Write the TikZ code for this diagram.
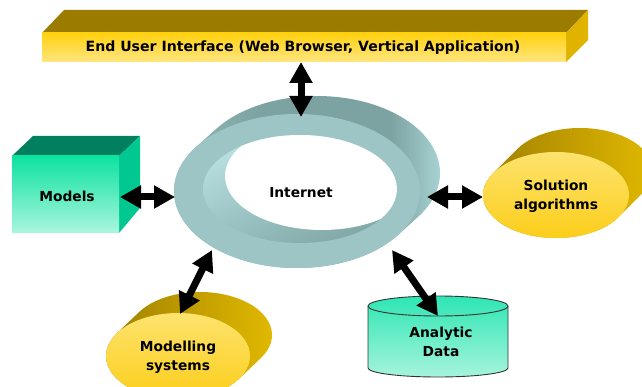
\documentclass[tikz,border=0pt]{standalone}
\usepackage{fontspec}
\setmainfont{DejaVu Sans}
\usetikzlibrary{arrows.meta,shadings}
\definecolor{barTop}{HTML}{9B7B00}
\definecolor{barSide}{HTML}{E0B300}
\definecolor{barHi}{HTML}{FFD10F}
\definecolor{barLo}{HTML}{FFE680}
\definecolor{modTop}{HTML}{00805F}
\definecolor{modSide}{HTML}{00C890}
\definecolor{modHi}{HTML}{0DE3A0}
\definecolor{modLo}{HTML}{AAF5DE}
\definecolor{ringF}{HTML}{9EC5C5}
\definecolor{ringL}{HTML}{98BEBE}
\definecolor{ringM}{HTML}{7DA2A2}
\definecolor{ringR}{HTML}{B6E2E2}
\definecolor{inUL}{HTML}{C2E9E9}
\definecolor{inLL}{HTML}{98C0C0}
\definecolor{inUR}{HTML}{A0C8C8}
\definecolor{inLR}{HTML}{789C9C}
\definecolor{ylwDark}{HTML}{9C7C00}
\definecolor{ylwBright}{HTML}{E4BC00}
\definecolor{ylwHi}{HTML}{FDE36E}
\definecolor{ylwLo}{HTML}{FCCE1A}
\definecolor{cylHi}{HTML}{2EE6B4}
\definecolor{cylLo}{HTML}{A6F4DC}
\pgfdeclarehorizontalshading{ringside}{100bp}{color(0bp)=(ringL); color(25bp)=(ringL); color(42bp)=(ringM); color(64bp)=(ringM); color(75bp)=(ringR); color(100bp)=(ringR)}
\tikzset{
  lbl/.style={font=\bfseries\fontsize{13.8}{18.5}\selectfont, align=center, inner sep=0pt, text=black},
  dbl/.style={line width=7pt, {Triangle[length=21pt,width=22pt]}-{Triangle[length=21pt,width=22pt]}}
}
\begin{document}
\begin{tikzpicture}[x=1pt,y=-1pt]
\useasboundingbox (0,0) rectangle (642,387);
\fill[white] (0,0) rectangle (642,387);

% ---- End user interface bar
\fill[barTop] (42,33) -- (64,10) -- (588,10) -- (566,33) -- cycle;
\fill[barSide] (566,33) -- (588,10) -- (588,40) -- (566,62) -- cycle;
\shade[top color=barHi, bottom color=barLo] (42,33) rectangle (566,62);
\node[lbl, font=\bfseries\fontsize{14.1}{18}\selectfont] (ui) at (303,48) {End User Interface (Web Browser, Vertical Application)};

% ---- Models box
\fill[modTop] (12,156) -- (33,136) -- (140,136) -- (119,156) -- cycle;
\fill[modSide] (119,156) -- (140,136) -- (140,208) -- (119,233) -- cycle;
\shade[top color=modHi, bottom color=modLo] (12,156) rectangle (119,233);
\node[lbl] (models) at (67,196) {Models};

% ---- Internet ring
\shade[shading=ringside]
  (297,191) ++(214.8:123 and 77)
  arc[start angle=214.8, end angle=34.8, x radius=123, y radius=77]
  -- ++(20,-18)
  arc[start angle=34.8, end angle=-145.2, x radius=123, y radius=77] -- cycle;
\fill[ringF] (297,191) ellipse[x radius=123, y radius=77];
\shade[upper left=inUL, lower left=inLL, upper right=inUR, lower right=inLR]
  (300,189) ellipse[x radius=97, y radius=54];
\begin{scope}
  \clip (300,189) ellipse[x radius=97, y radius=54];
  \fill[white] (322,176) ellipse[x radius=97, y radius=54];
\end{scope}
\node[lbl] (net) at (301,193) {Internet};

% ---- Solution algorithms
\shade[left color=ylwDark, right color=ylwBright]
  (556,195) ++(210.5:73 and 43)
  arc[start angle=210.5, end angle=30.5, x radius=73, y radius=43]
  -- ++(24,-24)
  arc[start angle=30.5, end angle=-149.5, x radius=73, y radius=43] -- cycle;
\shade[top color=ylwHi, bottom color=ylwLo] (556,195) ellipse[x radius=73, y radius=43];
\node[lbl] (sol) at (556,196) {Solution\\algorithms};

% ---- Modelling systems
\shade[left color=ylwDark, right color=ylwBright]
  (178,356) ++(212:72 and 43)
  arc[start angle=212, end angle=32, x radius=72, y radius=43]
  -- ++(22,-21)
  arc[start angle=32, end angle=-148, x radius=72, y radius=43] -- cycle;
\shade[top color=ylwHi, bottom color=ylwLo] (178,356) ellipse[x radius=72, y radius=43];
\node[lbl] (modsys) at (178,357) {Modelling\\systems};

% ---- Analytic Data cylinder
\shade[top color=cylHi, bottom color=cylLo, draw=black!80, line width=0.9pt]
  (368,306) -- (368,368)
  arc[start angle=180, end angle=0, x radius=70, y radius=9]
  -- (508,306)
  arc[start angle=0, end angle=-180, x radius=70, y radius=10] -- cycle;
\draw[black!80, line width=0.9pt] (368,306) arc[start angle=180, end angle=0, x radius=70, y radius=10];
\node[lbl] (data) at (441,342) {Analytic\\Data};

% ---- connector end points
\coordinate (uiS) at (301,62);
\coordinate (netN) at (301,117);
\coordinate (modE) at (120,197);
\coordinate (netW) at (175,197);
\coordinate (netE) at (427,197);
\coordinate (solW) at (483,197);
\coordinate (netSW) at (212,250);
\coordinate (msN) at (180,314);
\coordinate (netSE) at (392,250);
\coordinate (dataN) at (438,316);

\draw[dbl] (uiS) -- (netN);
\draw[dbl] (modE) -- (netW);
\draw[dbl] (netE) -- (solW);
\draw[dbl] (netSW) -- (msN);
\draw[dbl] (netSE) -- (dataN);
\end{tikzpicture}
\end{document}
